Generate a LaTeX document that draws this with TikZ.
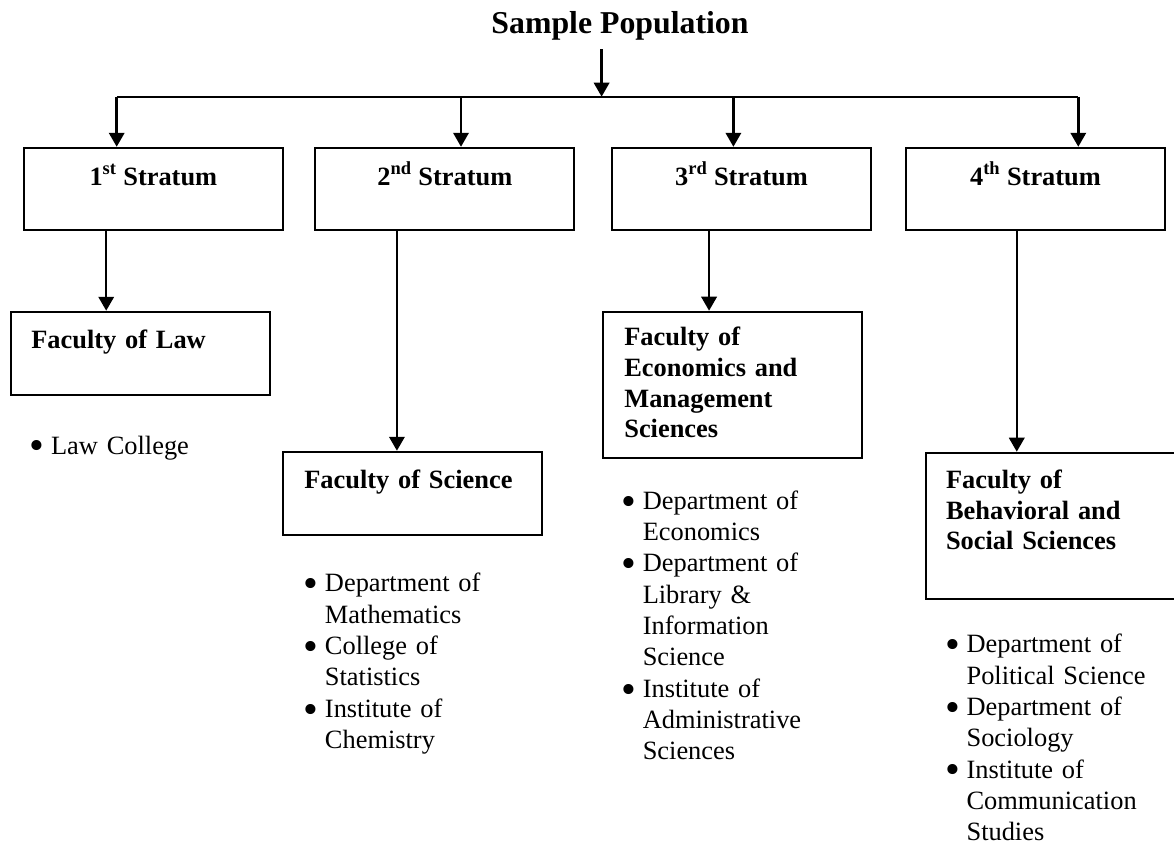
\documentclass[tikz,border=0pt]{standalone}
\usepackage{fontspec}
\setmainfont{Liberation Serif}
\usetikzlibrary{arrows.meta}

\tikzset{
  pbox/.style={draw,line width=1.4pt,inner sep=0pt,minimum width=194.25pt},
  arr/.style={line width=1.9pt,-{Triangle[length=10.5pt,width=11.5pt]}},
  head/.style={font=\fontsize{19.8pt}{23pt}\selectfont\bfseries,inner sep=0pt,anchor=base},
  ftext/.style={font=\fontsize{19.8pt}{23pt}\selectfont\bfseries,inner sep=0pt,
    text width=180pt,align=left,anchor=base west},
  blist/.style={font=\fontsize{19.8pt}{23.5pt}\selectfont,inner sep=0pt,
    text width=180pt,align=left,anchor=base west}
}
\newcommand{\bitem}{\makebox[16pt][l]{\raisebox{-4.3pt}{\scalebox{1.6}{\textbullet}}}}
\newcommand{\bcont}{\hspace*{16pt}}

\begin{document}
\begin{tikzpicture}[x=0.75pt,y=-0.75pt]
\useasboundingbox (0,0) rectangle (1174,846);
\clip (0,0) rectangle (1174,846);

% title
\node[font=\fontsize{23.85pt}{28pt}\selectfont\bfseries,anchor=base,
  inner xsep=0pt,inner ysep=7pt] (title) at (620,33) {Sample Population};
\coordinate (split) at (601.6,96.7);
\draw[arr] (split |- title.south) -- (split);

% branches
\coordinate (b1) at (116.7,96.7);
\coordinate (b2) at (461,96.7);
\coordinate (b3) at (733.4,96.7);
\coordinate (b4) at (1078.3,96.7);
\draw[line width=1.3pt] (b1) -- (b4);

% strata
\node[pbox,minimum height=61.7pt] (s1) at (153.35,188.85) {};
\node[pbox,minimum height=61.7pt] (s2) at (444.85,188.85) {};
\node[pbox,minimum height=61.7pt] (s3) at (741.5,188.85) {};
\node[pbox,minimum height=61.7pt] (s4) at (1035.5,188.85) {};

\node[head] (t1) at ([shift={(0,-3.85)}]s1.center) {1\textsuperscript{st} Stratum};
\node[head] (t2) at ([shift={(0,-3.85)}]s2.center) {2\textsuperscript{nd} Stratum};
\node[head] (t3) at ([shift={(0,-3.85)}]s3.center) {3\textsuperscript{rd} Stratum};
\node[head] (t4) at ([shift={(0,-3.85)}]s4.center) {4\textsuperscript{th} Stratum};

\foreach \i in {1,...,4}
  \draw[arr] (b\i) -- (b\i |- s\i.north);

% faculties
\node[pbox,minimum height=62.5pt] (law) at (140.85,353.35) {};
\node[pbox,minimum height=62.5pt] (sci) at (412.8,493.35) {};
\node[pbox,minimum height=110pt] (eco) at (732.8,385) {};
\node[pbox,minimum height=110pt] (beh) at (1055.2,526) {};

\node[ftext] (lawtxt) at ([shift={(20.6,37.6)}]law.north west) {Faculty of Law};
\node[ftext] (scitxt) at ([shift={(21.7,37.6)}]sci.north west) {Faculty of Science};
\node[ftext] (ecotxt) at ([shift={(21.7,35)}]eco.north west)
  {Faculty of\\Economics and\\Management\\Sciences};
\node[ftext] (behtxt) at ([shift={(21,36.6)}]beh.north west)
  {Faculty of\\Behavioral and\\Social Sciences};

\foreach \s/\f/\dx in {s1/law/83.3,s2/sci/82.5,s3/eco/98,s4/beh/111.7}
  \draw[arr] ([shift={(\dx,0)}]\s.south west) coordinate (d) -- (d |- \f.north);

% departments
\node[blist] (lawlist) at ([shift={(19.1,58.3)}]law.south west)
  {\bitem Law College};
\node[blist] (scilist) at ([shift={(21,56)}]sci.south west)
  {\bitem Department of\\\bcont Mathematics\\
   \bitem College of\\\bcont Statistics\\
   \bitem Institute of\\\bcont Chemistry};
\node[blist] (ecolist) at ([shift={(18.8,50)}]eco.south west)
  {\bitem Department of\\\bcont Economics\\
   \bitem Department of\\\bcont Library \&\\\bcont Information\\\bcont Science\\
   \bitem Institute of\\\bcont Administrative\\\bcont Sciences};
\node[blist] (behlist) at ([shift={(20.2,52.4)}]beh.south west)
  {\bitem Department of\\\bcont Political Science\\
   \bitem Department of\\\bcont Sociology\\
   \bitem Institute of\\\bcont Communication\\\bcont Studies};

\end{tikzpicture}
\end{document}
